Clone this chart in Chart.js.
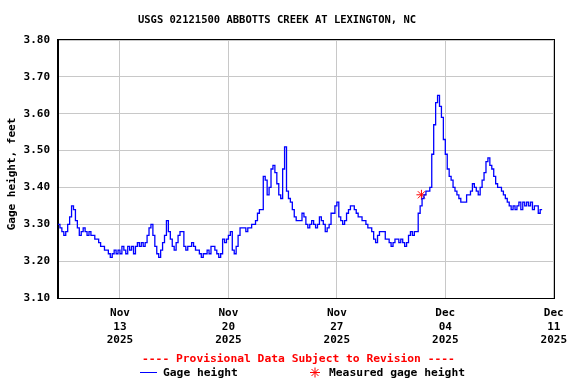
<!DOCTYPE html>
<html>
<head>
<meta charset="utf-8">
<script src="https://cdn.jsdelivr.net/npm/chart.js@4/dist/chart.umd.min.js"></script>
<style>
  html, body { margin: 0; padding: 0; background: #ffffff; }
  #gage { display: block; }
</style>
</head>
<body>
<canvas id="gage" width="576" height="384"></canvas>
<script>
// Data (gage height every 3 hours from Nov 09 2025 00:00)
const stepHours = 3;
const gageFeet = [
  3.30, 3.29, 3.28, 3.27, 3.28, 3.30, 3.32, 3.35,
  3.34, 3.31, 3.29, 3.27, 3.28, 3.29, 3.28, 3.27,
  3.28, 3.27, 3.27, 3.26, 3.26, 3.25, 3.24, 3.24,
  3.23, 3.23, 3.22, 3.21, 3.22, 3.23, 3.22, 3.23,
  3.22, 3.24, 3.23, 3.22, 3.24, 3.23, 3.24, 3.22,
  3.24, 3.25, 3.24, 3.25, 3.24, 3.25, 3.27, 3.29,
  3.30, 3.27, 3.24, 3.22, 3.21, 3.23, 3.25, 3.27,
  3.31, 3.28, 3.26, 3.24, 3.23, 3.25, 3.27, 3.28,
  3.28, 3.24, 3.23, 3.24, 3.24, 3.25, 3.24, 3.23,
  3.23, 3.22, 3.21, 3.22, 3.22, 3.23, 3.22, 3.24,
  3.24, 3.23, 3.22, 3.21, 3.22, 3.26, 3.25, 3.26,
  3.27, 3.28, 3.23, 3.22, 3.24, 3.27, 3.29, 3.29,
  3.29, 3.28, 3.29, 3.29, 3.30, 3.30, 3.31, 3.33,
  3.34, 3.34, 3.43, 3.42, 3.38, 3.40, 3.45, 3.46,
  3.44, 3.41, 3.38, 3.37, 3.45, 3.51, 3.39, 3.37,
  3.36, 3.34, 3.32, 3.31, 3.31, 3.31, 3.33, 3.32,
  3.30, 3.29, 3.30, 3.31, 3.30, 3.29, 3.30, 3.32,
  3.31, 3.30, 3.28, 3.29, 3.30, 3.33, 3.33, 3.35,
  3.36, 3.32, 3.31, 3.30, 3.31, 3.33, 3.34, 3.35,
  3.35, 3.34, 3.33, 3.32, 3.32, 3.31, 3.31, 3.30,
  3.29, 3.29, 3.28, 3.26, 3.25, 3.27, 3.28, 3.28,
  3.28, 3.26, 3.26, 3.25, 3.24, 3.25, 3.26, 3.26,
  3.25, 3.26, 3.25, 3.24, 3.25, 3.27, 3.28, 3.27,
  3.28, 3.28, 3.33, 3.35, 3.37, 3.38, 3.39, 3.39,
  3.40, 3.49, 3.57, 3.63, 3.65, 3.62, 3.59, 3.53,
  3.49, 3.45, 3.43, 3.42, 3.40, 3.39, 3.38, 3.37,
  3.36, 3.36, 3.36, 3.38, 3.38, 3.39, 3.41, 3.40,
  3.39, 3.38, 3.40, 3.42, 3.44, 3.47, 3.48, 3.46,
  3.45, 3.43, 3.41, 3.40, 3.40, 3.39, 3.38, 3.37,
  3.36, 3.35, 3.34, 3.35, 3.34, 3.35, 3.36, 3.34,
  3.36, 3.35, 3.36, 3.35, 3.36, 3.34, 3.35, 3.35,
  3.33, 3.34, 3.34
];

const measuredHours = [563];
const measuredFeet = [3.38];

const tickHours = [96, 264, 432, 600, 768];
const tickMonths = ['Nov', 'Nov', 'Nov', 'Dec', 'Dec'];
const tickDays = ['13', '20', '27', '04', '11'];
const tickYears = ['2025', '2025', '2025', '2025', '2025'];
const yTicks = [3.10, 3.20, 3.30, 3.40, 3.50, 3.60, 3.70, 3.80];

const monoFont = "'DejaVu Sans Mono', 'Liberation Mono', monospace";
const gridColour = "#c8c8c8";

// Extra text, legend and frame
const usgsDecor = {
  id: 'usgsDecor',
  afterDraw(chart) {
    const ctx = chart.ctx;
    const area = chart.chartArea;
    ctx.save();

    ctx.strokeStyle = "#000000";
    ctx.lineWidth = 1;
    ctx.strokeRect(Math.round(area.left) - 0.5, Math.round(area.top) - 0.5,
      Math.round(area.right - area.left) + 1, Math.round(area.bottom - area.top) + 1);

    ctx.textBaseline = "middle";
    ctx.fillStyle = "#000000";
    ctx.textAlign = "center";
    ctx.font = "bold 10.5px " + monoFont;
    ctx.fillText("USGS 02121500 ABBOTTS CREEK AT LEXINGTON, NC", 277, 20);

    ctx.font = "bold 11px " + monoFont;
    ctx.save();
    ctx.translate(12, 174);
    ctx.rotate(-Math.PI / 2);
    ctx.fillText("Gage height, feet", 0, 0);
    ctx.restore();

    ctx.font = "bold 11.3px " + monoFont;
    ctx.textAlign = "left";
    ctx.fillStyle = "#ff0000";
    ctx.fillText("---- Provisional Data Subject to Revision ----", 142, 359);

    ctx.strokeStyle = "#0000ff";
    ctx.beginPath();
    ctx.moveTo(140, 372.5);
    ctx.lineTo(157, 372.5);
    ctx.stroke();
    ctx.fillStyle = "#000000";
    ctx.fillText("Gage height", 163, 373);

    ctx.strokeStyle = "#ff0000";
    ctx.beginPath();
    ctx.moveTo(310, 372.5); ctx.lineTo(320, 372.5);
    ctx.moveTo(315, 367.5); ctx.lineTo(315, 377.5);
    ctx.moveTo(311.5, 369); ctx.lineTo(318.5, 376);
    ctx.moveTo(318.5, 369); ctx.lineTo(311.5, 376);
    ctx.stroke();
    ctx.fillText("Measured gage height", 329, 373);

    ctx.restore();
  }
};

const gagePoints = gageFeet.map((v, i) => ({ x: i * stepHours, y: v }));
const measuredPoints = measuredHours.map((h, i) => ({ x: h, y: measuredFeet[i] }));

new Chart(document.getElementById('gage'), {
  type: 'line',
  data: {
    datasets: [{
      label: 'Gage height',
      data: gagePoints,
      borderColor: '#0000ff',
      borderWidth: 1.3,
      pointRadius: 0,
      stepped: true,
      tension: 0
    }, {
      label: 'Measured gage height',
      data: measuredPoints,
      showLine: false,
      pointStyle: 'star',
      pointRadius: 5,
      borderColor: '#ff0000',
      backgroundColor: '#ff0000',
      borderWidth: 1
    }]
  },
  options: {
    responsive: false,
    animation: false,
    devicePixelRatio: 1,
    layout: { padding: { left: 0, right: 22, top: 40, bottom: 0 } },
    scales: {
      x: {
        type: 'linear',
        min: 0,
        max: 768,
        afterBuildTicks: axis => { axis.ticks = tickHours.map(v => ({ value: v })); },
        afterFit: axis => { axis.height = 86; },
        grid: { color: gridColour, drawTicks: false },
        border: { display: true, color: '#000000' },
        ticks: {
          autoSkip: false,
          maxRotation: 0,
          padding: 9,
          color: '#000000',
          font: { family: monoFont, size: 11, weight: 'bold', lineHeight: 1.2 },
          callback: (v) => {
            const i = tickHours.indexOf(v);
            return [tickMonths[i], tickDays[i], tickYears[i]];
          }
        }
      },
      y: {
        min: 3.10,
        max: 3.80,
        afterBuildTicks: axis => { axis.ticks = yTicks.map(v => ({ value: v })); },
        afterFit: axis => { axis.width = 58; },
        grid: { color: gridColour, drawTicks: false },
        border: { display: true, color: '#000000' },
        ticks: {
          padding: 8,
          color: '#000000',
          font: { family: monoFont, size: 11, weight: 'bold' },
          callback: v => Number(v).toFixed(2)
        }
      }
    },
    plugins: {
      legend: { display: false },
      tooltip: { enabled: false },
      title: { display: false }
    }
  },
  plugins: [usgsDecor]
});
</script>
</body>
</html>
